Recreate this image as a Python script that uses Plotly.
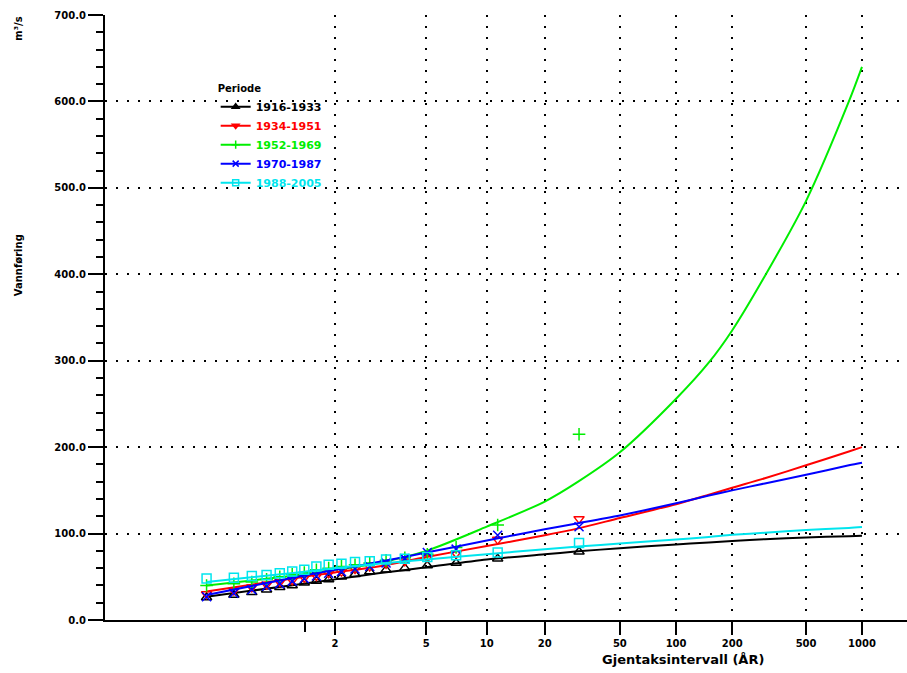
import math
import plotly.graph_objects as go

# Return periods (years) at which the fitted frequency curves are tabulated
fit_T = [1.034, 1.5, 2, 3, 5, 10, 20, 30, 50, 100, 150, 200, 300, 500, 850, 1000]

# Fitted flood-frequency curves (m3/s) per period
fit_1916_1933 = [27, 41, 47, 54, 61, 70, 76, 79.5, 83, 87.5, 89.8, 91.5, 93.5, 95.5, 97, 97.5]
fit_1934_1951 = [33, 49, 55, 62, 73, 85.5, 98, 106, 118, 134, 145, 153, 164, 179, 195, 200]
fit_1952_1969 = [40, 52, 58, 66, 80, 108, 137, 160, 194, 256, 298, 335, 398, 485, 600, 640]
fit_1970_1987 = [29, 50, 58, 67, 78, 92, 105, 112, 121, 135, 144, 150, 158, 168, 179, 182]
fit_1988_2005 = [44, 55, 60, 65, 70, 76, 82, 85, 88.5, 93, 96, 98.5, 101, 104, 106.5, 107.5]

# Observed annual maxima (m3/s), sorted ascending, 18 years per period
obs_1916_1933 = [26, 29, 32, 35, 38, 40, 43, 45, 47, 50, 53, 56, 58, 60, 63, 66, 71, 79]
obs_1934_1951 = [30, 34, 38, 41, 44, 46, 49, 51, 54, 56, 59, 62, 65, 68, 72, 77, 93, 117]
obs_1952_1969 = [40, 42, 44, 47, 50, 53, 55, 58, 60, 62, 64, 66, 69, 72, 76, 84, 110, 215]
obs_1970_1987 = [27, 31, 35, 39, 42, 45, 48, 51, 54, 56, 59, 62, 66, 71, 78, 82, 98, 108]
obs_1988_2005 = [48, 49, 51, 52, 54, 56, 58, 62, 64, 65, 67, 68, 70, 71, 73, 75, 78, 89]

periods = ["1916-1933", "1934-1951", "1952-1969", "1970-1987", "1988-2005"]
colors = ["#000000", "#ff0000", "#00ee00", "#0000ff", "#00e5ee"]
open_symbols = ["triangle-up-open", "triangle-down-open", "cross-thin-open",
                "x-thin-open", "square-open"]
legend_symbols = ["triangle-up", "triangle-down", "cross-thin-open",
                  "x-thin-open", "square-open"]

x_tick_T = [2, 5, 10, 20, 50, 100, 200, 500, 1000]
x_tick_text = ["2", "5", "10", "20", "50", "100", "200", "500", "1000"]


def gumbel(T):
    """Gumbel reduced variate for a return period T."""
    return -math.log(-math.log(1.0 - 1.0 / T))


def cunnane_variate(n):
    """Reduced variates of the Cunnane plotting positions for n sorted values."""
    out = []
    for i in range(1, n + 1):
        F = (i - 0.4) / (n + 0.2)
        out.append(-math.log(-math.log(F)))
    return out


fits = [fit_1916_1933, fit_1934_1951, fit_1952_1969, fit_1970_1987, fit_1988_2005]
obs = [obs_1916_1933, obs_1934_1951, obs_1952_1969, obs_1970_1987, obs_1988_2005]

fit_x = [gumbel(T) for T in fit_T]

fig = go.Figure()

for name, col, fy, oy, sym, lsym in zip(periods, colors, fits, obs,
                                        open_symbols, legend_symbols):
    fig.add_trace(go.Scatter(
        x=fit_x, y=fy, mode="lines",
        line=dict(color=col, width=2, shape="spline", smoothing=0.8),
        showlegend=False, hoverinfo="skip"))
    fig.add_trace(go.Scatter(
        x=cunnane_variate(len(oy)), y=oy, mode="markers",
        marker=dict(symbol=sym, size=9, color=col,
                    line=dict(color=col, width=1.5)),
        showlegend=False))
    # legend entry: line sample with its marker
    fig.add_trace(go.Scatter(
        x=[None], y=[None], mode="lines+markers",
        line=dict(color=col, width=2),
        marker=dict(symbol=lsym, size=6, color=col,
                    line=dict(color=col, width=1.5)),
        name="<span style='color:%s'><b>%s</b></span>" % (col, name)))

grid_dash = "2px,9px"

fig.update_layout(
    width=907, height=673,
    margin=dict(l=105, r=0, t=15, b=53),
    paper_bgcolor="white", plot_bgcolor="white",
    font=dict(family="DejaVu Sans", size=10, color="black"),
    showlegend=True,
    legend=dict(
        x=0.138, y=0.894, xanchor="left", yanchor="top",
        title=dict(text="<b>Periode</b>", font=dict(size=10)),
        font=dict(size=11), bgcolor="rgba(0,0,0,0)",
        tracegroupgap=0, itemwidth=30),
    xaxis=dict(
        range=[-2.488, 7.466],
        tickvals=[gumbel(T) for T in x_tick_T], ticktext=x_tick_text,
        ticks="outside", ticklen=13, tickwidth=2, tickcolor="black",
        tickfont=dict(size=10, weight="bold"),
        showline=True, linewidth=2, linecolor="black",
        showgrid=True, gridcolor="black", gridwidth=1.5, griddash=grid_dash,
        zeroline=False,
        minor=dict(tickvals=[gumbel(1.582)], ticks="outside", ticklen=10,
                   tickwidth=2, tickcolor="black", showgrid=False)),
    yaxis=dict(
        range=[0, 700], dtick=100, tickformat=".1f",
        ticks="outside", ticklen=15, tickwidth=2, tickcolor="black",
        tickfont=dict(size=10, weight="bold"),
        showline=True, linewidth=2, linecolor="black",
        showgrid=True, gridcolor="black", gridwidth=1.5, griddash=grid_dash,
        zeroline=False,
        minor=dict(dtick=20, ticks="outside", ticklen=7, tickwidth=2,
                   tickcolor="black", showgrid=False)),
    annotations=[
        dict(text="<b>m³/s</b>", xref="paper", yref="paper",
             x=-0.108, y=0.978, xanchor="center", yanchor="middle",
             textangle=-90, showarrow=False, font=dict(size=10)),
        dict(text="<b>Vannføring</b>", xref="paper", yref="paper",
             x=-0.108, y=0.587, xanchor="center", yanchor="middle",
             textangle=-90, showarrow=False, font=dict(size=10)),
        dict(text="<b>Gjentaksintervall (ÅR)</b>", xref="paper", yref="paper",
             x=0.7207, y=-0.066, xanchor="center", yanchor="middle",
             showarrow=False, font=dict(size=13)),
    ],
)

fig.write_html("out.html")
